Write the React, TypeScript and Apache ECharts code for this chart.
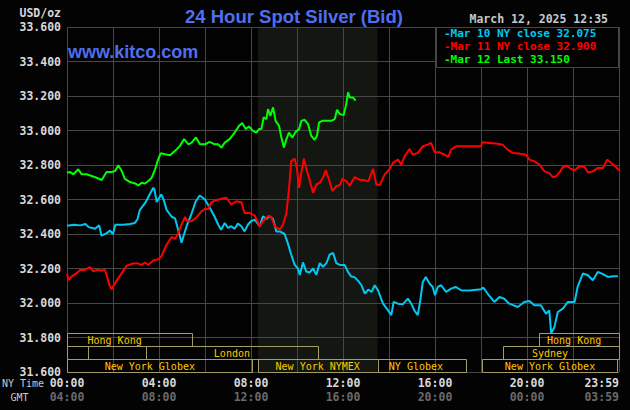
import React, { useEffect, useRef } from 'react';
import * as echarts from 'echarts';

// ---- axis ticks ----
const priceMin = 31.6;
const priceMax = 33.6;
const priceStep = 0.2;
const hourMin = 0;
const hourMax = 24;
const hourStep = 2;
const nyTimeLabels = ['00:00', '04:00', '08:00', '12:00', '16:00', '20:00', '23:59'];
const gmtLabels = ['04:00', '08:00', '12:00', '16:00', '20:00', '00:00', '03:59'];

// ---- Mar 10 (NY close 32.075) ----
const mar10Hours = [
  0.0, 0.3, 0.58, 0.8, 0.94, 1.22, 1.4, 1.5, 1.73, 1.87, 2.0, 2.1, 2.45, 2.74, 2.95, 3.06, 3.17, 3.4, 3.6, 3.75,
  3.8, 3.9, 4.1, 4.2, 4.33, 4.55, 4.7, 4.84, 4.98, 5.06, 5.2, 5.42, 5.6, 5.77, 6.0, 6.15, 6.42, 6.57, 6.7, 6.86,
  7.0, 7.14, 7.29, 7.43, 7.58, 7.72, 7.87, 8.0, 8.16, 8.38, 8.52, 8.67, 8.81, 8.96, 9.1, 9.25, 9.46, 9.6, 9.75, 9.9,
  10.04, 10.12, 10.26, 10.4, 10.55, 10.7, 10.84, 10.99, 11.13, 11.28, 11.42, 11.57, 11.71, 11.86, 12.07, 12.22, 12.36, 12.5, 12.66, 12.8,
  12.95, 13.1, 13.24, 13.38, 13.52, 13.74, 13.96, 14.1, 14.2, 14.39, 14.6, 14.82, 14.97, 15.1, 15.25, 15.36, 15.47, 15.6, 15.76, 15.9,
  16.0, 16.12, 16.27, 16.48, 16.7, 16.9, 17.13, 17.5, 18.0, 18.1, 18.3, 18.58, 18.8, 19.01, 19.23, 19.6, 19.88, 20.1, 20.32, 20.6,
  20.83, 20.97, 21.05, 21.19, 21.34, 21.56, 21.77, 22.07, 22.2, 22.43, 22.65, 22.86, 23.08, 23.3, 23.52, 23.74, 23.95,
];
const mar10Prices = [
  32.448, 32.454, 32.45, 32.458, 32.44, 32.43, 32.45, 32.39, 32.405, 32.42, 32.4, 32.454, 32.454, 32.458, 32.464, 32.484, 32.54, 32.58, 32.63, 32.668,
  32.66, 32.585, 32.63, 32.6, 32.54, 32.5, 32.49, 32.42, 32.35, 32.386, 32.445, 32.52, 32.59, 32.623, 32.6, 32.565, 32.5, 32.455, 32.425, 32.464,
  32.435, 32.445, 32.43, 32.46, 32.445, 32.415, 32.455, 32.474, 32.483, 32.445, 32.503, 32.487, 32.503, 32.487, 32.415, 32.415, 32.4, 32.347, 32.28, 32.221,
  32.2, 32.163, 32.235, 32.183, 32.177, 32.2, 32.163, 32.231, 32.21, 32.231, 32.28, 32.29, 32.231, 32.221, 32.221, 32.18, 32.153, 32.15, 32.128, 32.103,
  32.054, 32.078, 32.064, 32.103, 32.074, 31.996, 31.957, 31.93, 32.006, 31.996, 31.992, 32.025, 31.996, 31.957, 31.93, 32.016, 32.122, 32.151, 32.113, 32.093,
  32.045, 32.093, 32.103, 32.064, 32.083, 32.093, 32.074, 32.072, 32.08, 32.09, 32.052, 32.006, 32.035, 32.025, 31.996, 31.977, 32.006, 32.012, 31.987, 31.987,
  31.938, 31.957, 31.826, 31.86, 31.948, 31.967, 32.006, 32.006, 32.093, 32.171, 32.161, 32.132, 32.18, 32.167, 32.151, 32.155, 32.155,
];

// ---- Mar 11 (NY close 32.900) ----
const mar11Hours = [
  0.0, 0.07, 0.2, 0.42, 0.57, 0.78, 1.0, 1.14, 1.29, 1.51, 1.65, 1.72, 1.84, 1.94, 2.09, 2.23, 2.38, 2.59, 2.81, 3.03,
  3.25, 3.39, 3.54, 3.75, 3.97, 4.12, 4.33, 4.55, 4.7, 4.84, 4.98, 5.13, 5.23, 5.42, 5.64, 5.86, 6.0, 6.13, 6.28, 6.49,
  6.71, 6.93, 7.14, 7.36, 7.58, 7.72, 7.94, 8.16, 8.38, 8.52, 8.74, 8.88, 9.03, 9.25, 9.39, 9.54, 9.65, 9.75, 9.9, 10.0,
  10.09, 10.19, 10.3, 10.41, 10.52, 10.7, 10.84, 10.99, 11.13, 11.25, 11.39, 11.54, 11.71, 11.86, 11.97, 12.14, 12.29, 12.51, 12.73, 12.95,
  13.1, 13.31, 13.45, 13.6, 13.81, 14.03, 14.17, 14.39, 14.53, 14.68, 14.89, 15.04, 15.26, 15.47, 15.69, 15.83, 15.98, 16.19, 16.41, 16.58,
  16.7, 16.91, 18.0, 18.07, 18.36, 18.65, 18.94, 19.16, 19.38, 19.67, 19.96, 20.1, 20.32, 20.54, 20.76, 20.97, 21.12, 21.26, 21.41, 21.56,
  21.73, 21.92, 22.06, 22.28, 22.5, 22.65, 22.86, 23.08, 23.3, 23.49, 23.66, 23.85, 24.0,
];
const mar11Prices = [
  32.169, 32.134, 32.153, 32.173, 32.192, 32.192, 32.208, 32.183, 32.192, 32.188, 32.192, 32.163, 32.105, 32.08, 32.115, 32.144, 32.173, 32.216, 32.227, 32.231,
  32.221, 32.235, 32.221, 32.247, 32.254, 32.274, 32.338, 32.383, 32.371, 32.406, 32.454, 32.499, 32.474, 32.474, 32.499, 32.532, 32.546, 32.545, 32.584, 32.596,
  32.604, 32.61, 32.571, 32.59, 32.584, 32.522, 32.522, 32.507, 32.445, 32.474, 32.503, 32.499, 32.445, 32.425, 32.454, 32.522, 32.658, 32.823, 32.837, 32.775,
  32.668, 32.755, 32.837, 32.775, 32.726, 32.639, 32.687, 32.697, 32.726, 32.771, 32.716, 32.649, 32.678, 32.682, 32.72, 32.707, 32.68, 32.73, 32.714, 32.711,
  32.705, 32.777, 32.685, 32.685, 32.744, 32.777, 32.812, 32.831, 32.802, 32.85, 32.893, 32.86, 32.87, 32.909, 32.918, 32.928, 32.874, 32.874, 32.86, 32.847,
  32.889, 32.909, 32.909, 32.932, 32.928, 32.924, 32.918, 32.889, 32.87, 32.866, 32.86, 32.831, 32.821, 32.802, 32.763, 32.753, 32.73, 32.734, 32.757, 32.788,
  32.796, 32.777, 32.769, 32.792, 32.788, 32.757, 32.763, 32.783, 32.783, 32.831, 32.812, 32.792, 32.769,
];

// ---- Mar 12 (Last 33.150) ----
const mar12Hours = [
  0.0, 0.14, 0.28, 0.49, 0.64, 0.86, 1.07, 1.29, 1.51, 1.72, 1.94, 2.09, 2.23, 2.38, 2.52, 2.74, 2.96, 3.1, 3.25, 3.39,
  3.54, 3.68, 3.83, 3.94, 4.07, 4.26, 4.48, 4.7, 4.91, 5.09, 5.28, 5.42, 5.61, 5.78, 6.0, 6.2, 6.42, 6.57, 6.71, 6.86,
  7.07, 7.29, 7.48, 7.62, 7.77, 7.91, 8.09, 8.23, 8.35, 8.45, 8.55, 8.67, 8.74, 8.84, 8.96, 9.07, 9.22, 9.32, 9.43, 9.54,
  9.65, 9.8, 9.94, 10.09, 10.19, 10.33, 10.48, 10.62, 10.77, 10.87, 10.96, 11.1, 11.28, 11.49, 11.64, 11.74, 11.86, 12.03, 12.14, 12.22,
  12.29, 12.43, 12.55,
];
const mar12Prices = [
  32.755, 32.759, 32.746, 32.775, 32.746, 32.746, 32.736, 32.726, 32.713, 32.759, 32.759, 32.765, 32.798, 32.765, 32.72, 32.701, 32.693, 32.682, 32.697, 32.693,
  32.707, 32.726, 32.775, 32.823, 32.868, 32.862, 32.856, 32.882, 32.911, 32.95, 32.92, 32.93, 32.96, 32.92, 32.92, 32.934, 32.92, 32.92, 32.901, 32.93,
  32.95, 32.988, 33.027, 33.043, 33.008, 33.023, 32.998, 32.988, 33.008, 33.008, 33.076, 33.066, 33.124, 33.085, 33.134, 33.056, 33.027, 32.959, 32.901, 32.95,
  32.988, 32.959, 32.992, 33.008, 33.056, 33.062, 33.037, 32.969, 32.946, 32.969, 33.047, 33.056, 33.056, 33.056, 33.066, 33.12, 33.095, 33.089, 33.153, 33.221,
  33.192, 33.192, 33.173,
];

// ---- trading sessions (NY hours) ----
const sessionNames = ['Hong Kong', 'Hong Kong', '', 'London', 'Sydney', 'New York Globex', 'New York NYMEX', 'NY Globex', 'New York Globex'];
const sessionStarts = [0, 20.5, 0, 3.45, 18.95, 0, 8.3, 13.5, 18.03];
const sessionEnds = [5.45, 24, 0.9, 10.9, 24, 8.03, 13.5, 17.35, 23.93];
const sessionRows = [0, 0, 1, 1, 1, 2, 2, 2, 2];
const sessionLabelAt = [2.07, 22.05, 0.45, 7.17, 21.0, 3.6, 10.9, 15.17, 21.0];
const nymexHours = [8.3, 13.5];

const legendLines = ['-Mar 10 NY close 32.075', '-Mar 11 NY close 32.900', '-Mar 12 Last 33.150'];
const seriesColors = ['#00c8f0', '#ff0000', '#00ff00'];

export default function App() {
  const ref = useRef<HTMLDivElement>(null);

  useEffect(() => {
    if (!ref.current) return;
    const chart = echarts.init(ref.current, null, { renderer: 'svg' });
    const zip = (h: number[], p: number[]) => h.map((x, i) => [x, p[i]]);
    const mono = "'DejaVu Sans Mono', 'Liberation Mono', monospace";
    const sans = "'Liberation Sans', Arial, sans-serif";
    const gridColor = '#464646';

    const lineSeries = (name: string, data: number[][], color: string) => ({
      name,
      type: 'line',
      data,
      showSymbol: false,
      symbol: 'none',
      silent: true,
      z: 4,
      lineStyle: { color, width: 2 },
    });

    chart.setOption({
      animation: false,
      backgroundColor: '#030304',
      grid: { left: 67, right: 11, top: 27, bottom: 38, show: false },
      xAxis: {
        type: 'value',
        min: hourMin,
        max: hourMax,
        interval: hourStep,
        axisLine: { show: false },
        axisTick: { show: false },
        splitLine: { show: true, lineStyle: { color: gridColor, width: 1 } },
        axisLabel: {
          margin: 4,
          alignMaxLabel: 'right',
          formatter: (v: number) => {
            if (v % 4 !== 0) return '';
            const i = v / 4;
            return `{a|${nyTimeLabels[i]}}\n{b|${gmtLabels[i]}}`;
          },
          rich: {
            a: { fontFamily: mono, fontWeight: 'bold', fontSize: 11.5, color: '#d8d8d8', lineHeight: 14 },
            b: { fontFamily: mono, fontWeight: 'bold', fontSize: 11.5, color: '#6a6a6a', lineHeight: 14 },
          },
        },
      },
      yAxis: {
        type: 'value',
        min: priceMin,
        max: priceMax,
        interval: priceStep,
        axisLine: { show: false },
        axisTick: { show: false },
        splitLine: { show: true, lineStyle: { color: gridColor, width: 1 } },
        axisLabel: {
          margin: 6,
          fontFamily: mono,
          fontWeight: 'bold',
          fontSize: 11.5,
          color: '#d8d8d8',
          formatter: (v: number) => v.toFixed(3),
        },
      },
      series: [
        {
          type: 'custom',
          silent: true,
          z: -1,
          data: [nymexHours],
          encode: { x: [0, 1] },
          renderItem: (_p: any, api: any) => {
            const a = api.coord([api.value(0), priceMax]);
            const b = api.coord([api.value(1), priceMin]);
            return {
              type: 'rect',
              shape: { x: a[0], y: a[1], width: b[0] - a[0], height: b[1] - a[1] },
              style: { fill: '#141612' },
            };
          },
        },
        lineSeries('Mar 10', zip(mar10Hours, mar10Prices), seriesColors[0]),
        lineSeries('Mar 11', zip(mar11Hours, mar11Prices), seriesColors[1]),
        lineSeries('Mar 12', zip(mar12Hours, mar12Prices), seriesColors[2]),
        {
          type: 'custom',
          silent: true,
          z: 5,
          data: sessionStarts.map((s, i) => [s, sessionEnds[i], sessionRows[i], sessionLabelAt[i], i]),
          encode: { x: [0, 1] },
          renderItem: (_p: any, api: any) => {
            const idx = api.value(4);
            const row = api.value(2);
            const bottom = api.coord([0, priceMin])[1];
            const rowH = 13;
            const top = Math.round(bottom - (3 - row) * rowH) + 0.5;
            const x0 = Math.round(api.coord([api.value(0), priceMin])[0]) + 0.5;
            const x1 = Math.round(api.coord([api.value(1), priceMin])[0]) + 0.5;
            const lx = api.coord([api.value(3), priceMin])[0];
            return {
              type: 'group',
              children: [
                {
                  type: 'rect',
                  shape: { x: x0, y: top, width: x1 - x0, height: rowH },
                  style: { fill: 'none', stroke: '#a39b68', lineWidth: 1 },
                },
                {
                  type: 'text',
                  x: lx,
                  y: top + rowH / 2 + 0.5,
                  style: {
                    text: sessionNames[idx],
                    fill: '#ffc800',
                    font: `10px ${mono}`,
                    align: 'center',
                    verticalAlign: 'middle',
                    textAlign: 'center',
                    textVerticalAlign: 'middle',
                  },
                },
              ],
            };
          },
        },
      ],
      graphic: [
        {
          type: 'text',
          x: 294,
          y: 16,
          style: {
            text: '24 Hour Spot Silver (Bid)',
            fill: '#4f6ff0',
            font: `bold 18.5px ${sans}`,
            align: 'center',
            verticalAlign: 'middle',
          },
        },
        {
          type: 'text',
          x: 68,
          y: 51.5,
          z: 10,
          style: {
            text: 'www.kitco.com',
            fill: '#4f6ff0',
            font: `bold 18px ${sans}`,
            align: 'left',
            verticalAlign: 'middle',
          },
        },
        {
          type: 'text',
          x: 61,
          y: 13,
          style: { text: 'USD/oz', fill: '#d8d8d8', font: `bold 11.5px ${mono}`, align: 'right', verticalAlign: 'middle' },
        },
        {
          type: 'text',
          x: 608,
          y: 19,
          style: { text: 'March 12, 2025 12:35', fill: '#c8c8c8', font: `bold 11.5px ${mono}`, align: 'right', verticalAlign: 'middle' },
        },
        {
          type: 'rect',
          z: 10,
          shape: { x: 436.5, y: 27.5, width: 182, height: 40 },
          style: { fill: '#030304', stroke: gridColor, lineWidth: 1 },
        },
        ...legendLines.map((t, i) => ({
          type: 'text',
          z: 11,
          x: 444,
          y: 33.5 + i * 13,
          style: {
            text: t,
            fill: seriesColors[i],
            font: `bold 11px ${mono}`,
            align: 'left',
            verticalAlign: 'middle',
          },
        })),
        {
          type: 'text',
          x: 23,
          y: 383,
          style: { text: 'NY Time', fill: '#c8c8c8', font: `10px ${mono}`, align: 'center', verticalAlign: 'middle' },
        },
        {
          type: 'text',
          x: 19.5,
          y: 397,
          style: { text: 'GMT', fill: '#c8c8c8', font: `10px ${mono}`, align: 'center', verticalAlign: 'middle' },
        },
      ],
    });

    return () => chart.dispose();
  }, []);

  return <div ref={ref} style={{ position: 'fixed', left: 0, top: 0, width: 630, height: 410 }} />;
}
